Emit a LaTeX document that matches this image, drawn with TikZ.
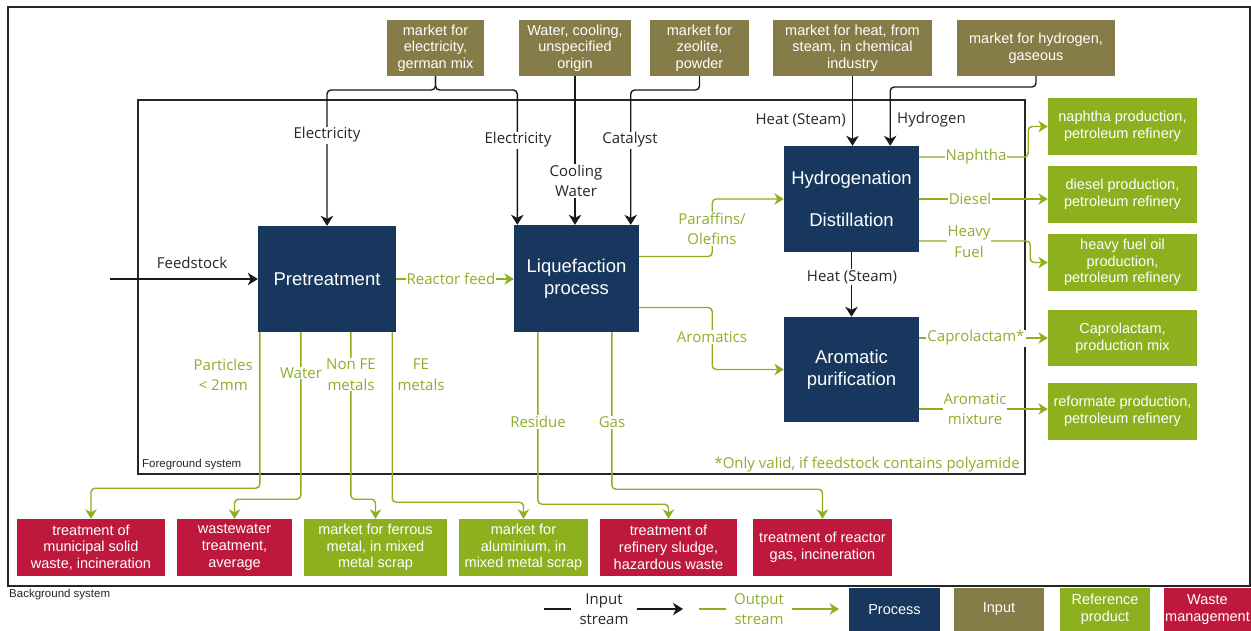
\documentclass[tikz,border=0pt]{standalone}
\usepackage{fontspec}
\setmainfont{Liberation Sans}
\newfontfamily\lblfont{Open Sans}
\usetikzlibrary{arrows.meta}
\definecolor{navy}{HTML}{17375E}
\definecolor{olivebox}{HTML}{857C48}
\definecolor{refgreen}{HTML}{8DB01F}
\definecolor{wastered}{HTML}{BE193C}
\definecolor{lblgreen}{HTML}{8DAF2A}
\begin{document}
\begin{tikzpicture}[x=1pt,y=-1pt,
  box/.style={text=white, align=center, inner sep=0pt, font=\fontsize{14.5}{16.7}\selectfont},
  inbox/.style={box, fill=olivebox},
  refbox/.style={box, fill=refgreen},
  wastebox/.style={box, fill=wastered},
  procbox/.style={box, fill=navy, font=\fontsize{18.5}{21.5}\selectfont},
  frame/.style={draw=black!85, line width=1.2pt},
  inflow/.style={draw=black!90, line width=1.4pt, rounded corners=4pt, -{Stealth[length=10pt,width=12.5pt,inset=3pt]}},
  inplain/.style={draw=black!90, line width=1.4pt},
  outflow/.style={draw=refgreen, line width=1.4pt, rounded corners=4pt, -{Stealth[length=9.5pt,width=11.5pt,inset=3pt]}},
  outplain/.style={draw=refgreen, line width=1.4pt},
  blbl/.style={font=\lblfont\fontsize{15}{20.5}\selectfont, text=black!85, align=center, inner sep=1pt, fill=white},
  glbl/.style={blbl, text=lblgreen},
  syslbl/.style={font=\fontsize{11.5}{13}\selectfont, text=black!85, inner sep=0pt, anchor=west},
]
\useasboundingbox (0,0) rectangle (1251,630);
\fill[white] (0,0) rectangle (1251,630);
% system frames
\draw[frame] (8,7) rectangle (1250,586);
\draw[frame] (138,100) rectangle (1025,474);
\node[syslbl] (fgl) at (142,465) {Foreground system};
\node[syslbl] (bgl) at (9,595) {Background system};
\node[glbl, anchor=east, fill=none] (note) at (1021,465) {*Only valid, if feedstock contains polyamide};

% inputs
\node[inbox, minimum width=97pt, minimum height=56pt] (e) at (435.5,48) {market for\\electricity,\\german mix};
\node[inbox, minimum width=112pt, minimum height=56pt] (w) at (575,48) {Water, cooling,\\unspecified\\origin};
\node[inbox, minimum width=99pt, minimum height=56pt] (z) at (699.5,48) {market for\\zeolite,\\powder};
\node[inbox, minimum width=159pt, minimum height=56pt] (h) at (852.5,48) {market for heat, from\\steam, in chemical\\industry};
\node[inbox, minimum width=158pt, minimum height=56pt] (hy) at (1036,48) {market for hydrogen,\\gaseous};

% processes
\node[procbox, minimum width=138pt, minimum height=106pt] (pre) at (327,279) {Pretreatment};
\node[procbox, minimum width=125pt, minimum height=107pt] (liq) at (576.5,278.5) {Liquefaction\\process};
\node[procbox, minimum width=135pt, minimum height=106pt] (hyd) at (851.5,199) {Hydrogenation\\[21pt]Distillation};
\node[procbox, minimum width=135pt, minimum height=105pt] (aro) at (851.5,369.5) {Aromatic\\purification};

% reference products (right)
\node[refbox, minimum width=149pt, minimum height=57pt] (naph) at (1122.5,126.5) {naphtha production,\\petroleum refinery};
\node[refbox, minimum width=149pt, minimum height=57pt] (dies) at (1122.5,194.5) {diesel production,\\petroleum refinery};
\node[refbox, minimum width=149pt, minimum height=57pt] (heavy) at (1122.5,262.5) {heavy fuel oil\\production,\\petroleum refinery};
\node[refbox, minimum width=149pt, minimum height=56pt] (capro) at (1122.5,338) {Caprolactam,\\production mix};
\node[refbox, minimum width=149pt, minimum height=57pt] (refo) at (1122.5,411.5) {reformate production,\\petroleum refinery};

% bottom outputs
\node[wastebox, minimum width=148pt, minimum height=57pt] (b1) at (91,547.5) {treatment of\\municipal solid\\waste, incineration};
\node[wastebox, minimum width=115pt, minimum height=57pt] (b2) at (234.5,547.5) {wastewater\\treatment,\\average};
\node[refbox, minimum width=143pt, minimum height=57pt] (b3) at (375.5,547.5) {market for ferrous\\metal, in mixed\\metal scrap};
\node[refbox, minimum width=129pt, minimum height=57pt] (b4) at (523.5,547.5) {market for\\aluminium, in\\mixed metal scrap};
\node[wastebox, minimum width=137pt, minimum height=57pt] (b5) at (668.5,547.5) {treatment of\\refinery sludge,\\hazardous waste};
\node[wastebox, minimum width=139pt, minimum height=57pt] (b6) at (822.5,547.5) {treatment of reactor\\gas, incineration};

% input connectors
\coordinate (ej) at (435.5,90);
\coordinate (hj) at (1036,87);
\coordinate (fs) at (110,279);
\draw[inflow] (e.south) -- (ej) -| (pre.north);
\draw[inflow] (e.south) -- (ej) -| ([xshift=3.5pt]liq.north west);
\draw[inflow] (w.south) -- (w.south |- liq.north);
\draw[inflow] (z.south) -- (z.south |- ej) -| ([xshift=-8.5pt]liq.north east);
\draw[inflow] (h.south) -- (h.south |- hyd.north);
\draw[inflow] (hy.south) -- (hy.south |- hj) -| ([xshift=-29pt]hyd.north east);
\draw[inflow] (hyd.south) -- (aro.north);
\draw[inflow] (fs) -- (pre.west);

% output connectors
\draw[outflow] (pre.east) -- (pre.east -| liq.west);
\draw[outflow] ([yshift=22pt]liq.east) -- ++(73,0) |- (hyd.west);
\draw[outflow] ([yshift=-29pt]liq.east) -- ++(73,0) |- (aro.west);
\draw[outflow] ([yshift=42pt]hyd.east) -- ++(109,0) |- (naph.west);
\draw[outflow] (hyd.east) -- (hyd.east -| dies.west);
\draw[outflow] ([yshift=-42pt]hyd.east) -- ++(111,0) |- (heavy.west);
\draw[outflow] ([yshift=31.5pt]aro.east) -- ([yshift=31.5pt]aro.east -| capro.west);
\draw[outflow] ([yshift=-39.5pt]aro.east) -- ([yshift=-39.5pt]aro.east -| refo.west);
\draw[outflow] ([xshift=2pt]pre.south west) -- ++(0,156) -| (b1.north);
\draw[outflow] ([xshift=43pt]pre.south west) -- ++(0,167) -| (b2.north);
\draw[outflow] ([xshift=93pt]pre.south west) -- ++(0,167) -| (b3.north);
\draw[outflow] ([xshift=-4pt]pre.south east) -- ++(0,170) -| (b4.north);
\draw[outflow] ([xshift=24pt]liq.south west) -- ++(0,172) -| (b5.north);
\draw[outflow] ([xshift=98pt]liq.south west) -- ++(0,157) -| (b6.north);

% connector labels
\node[blbl] (l1) at (327,135) {Electricity};
\node[blbl] (l2) at (518,140) {Electricity};
\node[blbl] (l3) at (630,140) {Catalyst};
\node[blbl] (l4) at (576,181) {Cooling\\Water};
\node[blbl, anchor=east] (l5) at (847,120) {Heat (Steam)};
\node[blbl, anchor=west] (l6) at (896,120) {Hydrogen};
\node[blbl] (l7) at (852,277) {Heat (Steam)};
\node[blbl, fill=none] (l8) at (192,263) {Feedstock};
\node[glbl] (g1) at (451,279) {Reactor feed};
\node[glbl] (g2) at (712,229) {Paraffins/\\Olefins};
\node[glbl] (g3) at (712,337) {Aromatics};
\node[glbl] (g4) at (976,157) {Naphtha};
\node[glbl] (g5) at (970,199) {Diesel};
\node[glbl] (g6) at (969,241.5) {Heavy\\Fuel};
\node[glbl] (g7) at (976,338) {Caprolactam*};
\node[glbl] (g8) at (975,409) {Aromatic\\mixture};
\node[glbl, anchor=east, fill=none] (g9) at (254,375) {Particles\\< 2mm};
\node[glbl] (g10) at (301,373) {Water};
\node[glbl] (g11) at (351,374.5) {Non FE\\metals};
\node[glbl, fill=none] (g12) at (421,374.5) {FE\\metals};
\node[glbl] (g13) at (538,422) {Residue};
\node[glbl] (g14) at (612,422) {Gas};

% legend
\node[blbl, inner xsep=8pt] (lin) at (604,609) {Input\\stream};
\coordinate (lia) at (544,609);
\coordinate (lib) at (683,609);
\draw[inplain] (lia) -- (lin.west);
\draw[inflow] (lin.east) -- (lib);
\node[glbl, inner xsep=8pt] (lout) at (759,609) {Output\\stream};
\coordinate (loa) at (699,609);
\coordinate (lob) at (839,609);
\draw[outplain] (loa) -- (lout.west);
\draw[outflow] (lout.east) -- (lob);
\node[procbox, font=\fontsize{14.5}{16.7}\selectfont, minimum width=91pt, minimum height=43pt] (lp) at (894.5,609.5) {Process};
\node[inbox, minimum width=90pt, minimum height=43pt] (li) at (999,609.5) {Input};
\node[refbox, minimum width=90pt, minimum height=43pt] (lr) at (1105,609.5) {Reference\\product};
\node[wastebox, minimum width=87pt, minimum height=43pt] (lw) at (1207.5,609.5) {Waste\\management};
\end{tikzpicture}
\end{document}
